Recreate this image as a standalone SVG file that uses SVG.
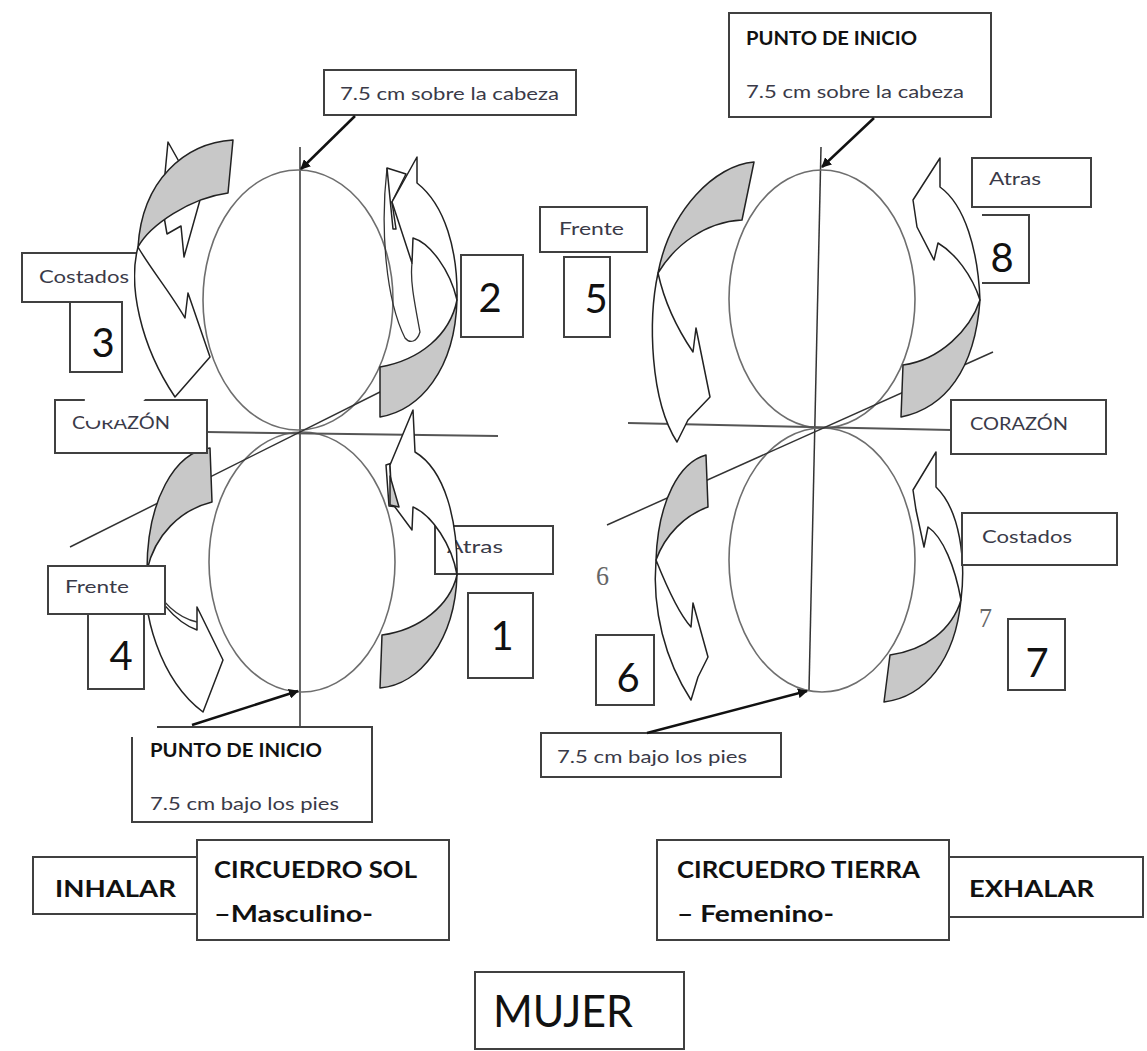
<svg xmlns="http://www.w3.org/2000/svg" width="1147" height="1051" viewBox="0 0 1147 1051">
<defs>
<style>
.bg{fill:#fff}
.box{fill:#fff;stroke:#404040;stroke-width:2}
.edge{fill:none;stroke:#404040;stroke-width:2}
.lbl{font-family:Lato,"Liberation Sans",Arial,sans-serif;font-size:18px;fill:#3a3a48}
.bold{font-family:Lato,"Liberation Sans",Arial,sans-serif;font-weight:bold;fill:#111}
.num{font-family:Lato,"Liberation Sans",Arial,sans-serif;font-size:40px;fill:#111;text-anchor:middle}
.thin{font-family:"Liberation Serif",serif;font-size:28px;fill:#666}
.ell{fill:none;stroke:#6e6e6e;stroke-width:1.6}
.axis{fill:none;stroke:#333;stroke-width:1.5}
.hline{fill:none;stroke:#555;stroke-width:2}
.wht{fill:#fff;stroke:#222;stroke-width:1.5;stroke-linejoin:round}
.gry{fill:#c8c8c8;stroke:#222;stroke-width:1.5;stroke-linejoin:round}
.back{fill:none;stroke:#333;stroke-width:1.3}
.ptr{fill:none;stroke:#111;stroke-width:2.5}
</style>
<marker id="tip" viewBox="0 0 10 10" refX="9" refY="5" markerWidth="4" markerHeight="4" orient="auto" markerUnits="strokeWidth">
<path d="M0,0 L10,5 L0,10 z" fill="#111"/>
</marker>
</defs>
<rect class="bg" x="0" y="0" width="1147" height="1051"/>

<!-- LEFT DIAGRAM base lines -->
<g id="left-figure">
<line class="axis" x1="300" y1="147" x2="300" y2="727"/>
<ellipse class="ell" cx="298" cy="300" rx="95" ry="130"/>
<ellipse class="ell" cx="302" cy="562" rx="93" ry="130"/>
<line class="hline" x1="207" y1="432" x2="498" y2="436"/>
<line class="axis" x1="70" y1="547" x2="400" y2="382"/>
</g>

<!-- RIGHT DIAGRAM base lines -->
<g id="right-figure">
<line class="axis" x1="821" y1="147" x2="809" y2="690"/>
<ellipse class="ell" cx="822" cy="299" rx="93" ry="129"/>
<ellipse class="ell" cx="822" cy="560" rx="93" ry="132"/>
<line class="hline" x1="628" y1="423" x2="951" y2="430"/>
<line class="axis" x1="607" y1="525" x2="993" y2="352"/>
</g>

<g id="left-atras">
<rect class="box" x="435" y="526" width="118" height="48"/>
<text class="lbl" x="447" y="553" textLength="56" lengthAdjust="spacingAndGlyphs">Atras</text>
</g>

<!-- curved flow arrows -->
<g id="arrow-3">
<path class="wht" d="M168,142 L177,158 L200,200 L184,257 L181,226 L167,234 L162,205 Z"/>
<path class="wht" d="M138,247 C128,285 140,345 175,397 L210,357 L188,293 L185,318 C170,292 150,268 138,247 Z"/>
<path class="gry" d="M233,140 C185,143 142,180 138,247 C150,225 190,198 228,193 Z"/>
</g>
<g id="arrow-4">
<path class="wht" d="M147,570 C140,610 160,680 203,712 L223,660 L197,607 L197,630 C175,622 152,595 147,570 Z"/>
<path class="back" d="M150,578 C160,602 178,618 197,622"/>
<path class="gry" d="M210,448 C175,452 147,500 147,570 C155,535 180,510 212,502 Z"/>
</g>
<g id="arrow-2">
<path class="back" d="M387,168 C380,230 386,300 405,338 C410,344 417,342 420,332 C414,300 410,280 412,263"/>
<path class="wht" d="M387,168 L406,174 L392,202 L396,229 L393,229 Z"/>
<path class="wht" d="M457,300 C458,250 445,205 417,183 L417,157 L392,202 L412,263 L413,238 C430,243 450,270 457,300 Z"/>
<path class="gry" d="M380,417 C420,410 455,370 457,300 C450,335 420,360 380,367 Z"/>
</g>
<g id="arrow-1">
<path class="wht" d="M386,465 L395,462 L390,465 L392,503 L398,507 L389,506 Z"/>
<path class="wht" d="M457,575 C458,520 445,470 415,452 L413,410 L390,465 L392,503 L412,530 L413,507 C432,515 452,545 457,575 Z"/>
<path class="gry" d="M390,476 L399,507 L390,505 Z"/>
<path class="gry" d="M380,688 C420,685 455,640 457,575 C450,605 420,630 382,635 Z"/>
</g>
<g id="arrow-5">
<path class="wht" d="M658,273 C648,320 650,400 677,442 L688,420 L710,397 L696,328 L693,352 C678,330 665,305 658,273 Z"/>
<path class="gry" d="M754,162 C715,165 670,210 658,273 C675,245 705,222 742,220 Z"/>
</g>
<g id="arrow-8">
<path class="wht" d="M980,300 C978,250 965,205 940,187 L940,158 L913,200 L917,227 L934,260 L938,243 C955,253 972,275 980,300 Z"/>
<path class="gry" d="M901,417 C945,408 975,370 980,300 C970,330 940,360 903,365 Z"/>
</g>
<g id="arrow-6">
<path class="wht" d="M656,560 C652,610 665,660 691,700 L698,677 L708,657 L693,603 L691,627 C680,615 668,590 656,560 Z"/>
<path class="gry" d="M706,455 C680,462 658,500 656,560 C665,535 685,515 708,507 Z"/>
</g>
<g id="arrow-7">
<path class="wht" d="M961,600 C966,560 960,510 936,487 L936,452 L913,490 L916,510 L924,547 L928,527 C943,537 955,567 961,600 Z"/>
<path class="gry" d="M884,702 C925,697 955,660 961,600 C952,630 925,650 890,655 Z"/>
</g>

<!-- LEFT labels -->
<g id="left-top-label">
<rect class="box" x="324" y="70" width="252" height="45"/>
<text class="lbl" x="340" y="100" textLength="219" lengthAdjust="spacingAndGlyphs">7.5 cm sobre la cabeza</text>
</g>
<g id="left-costados">
<path class="edge" d="M136,253 H22 V302 H70"/>
<path d="M23,254 H134 V301 H23 Z" fill="#fff"/>
<text class="lbl" x="39" y="283" textLength="90" lengthAdjust="spacingAndGlyphs">Costados</text>
</g>
<g id="left-n3">
<rect class="box" x="70" y="302" width="52" height="70"/>
<text class="num" x="103" y="357">3</text>
</g>
<g id="left-n2">
<rect class="box" x="461" y="255" width="62" height="82"/>
<text class="num" x="490" y="312">2</text>
</g>
<g id="left-corazon">
<rect class="box" x="55" y="400" width="152" height="53"/>
<text class="lbl" x="72" y="429" textLength="98" lengthAdjust="spacingAndGlyphs">CORAZÓN</text>
<path d="M85,396 L148,396 L128,417 L120,420 L84,421 Z" fill="#fff"/>
</g>
<g id="left-frente">
<rect class="box" x="48" y="566" width="117" height="48"/>
<text class="lbl" x="65" y="593" textLength="64" lengthAdjust="spacingAndGlyphs">Frente</text>
</g>
<g id="left-n4">
<rect class="box" x="88" y="614" width="56" height="75"/>
<text class="num" x="121" y="670">4</text>
</g>
<g id="left-n1">
<rect class="box" x="468" y="593" width="65" height="85"/>
<text class="num" x="502" y="650">1</text>
</g>
<g id="left-start">
<path d="M132,737 V822 H372 V727 H157" fill="#fff" stroke="#404040" stroke-width="2"/>
<text class="bold" font-size="18" x="150" y="757" textLength="172" lengthAdjust="spacingAndGlyphs" fill="#2a1f33">PUNTO DE INICIO</text>
<text class="lbl" x="150" y="810" textLength="189" lengthAdjust="spacingAndGlyphs">7.5 cm bajo los pies</text>
</g>

<!-- RIGHT labels -->
<g id="right-start">
<rect class="box" x="729" y="13" width="262" height="104"/>
<text class="bold" font-size="18" x="746" y="45" textLength="171" lengthAdjust="spacingAndGlyphs" fill="#2a1f33">PUNTO DE INICIO</text>
<text class="lbl" x="746" y="98" textLength="218" lengthAdjust="spacingAndGlyphs">7.5 cm sobre la cabeza</text>
</g>
<g id="right-frente">
<rect class="box" x="540" y="207" width="107" height="45"/>
<text class="lbl" x="559" y="235" textLength="65" lengthAdjust="spacingAndGlyphs">Frente</text>
</g>
<g id="right-n5">
<rect class="box" x="564" y="257" width="46" height="80"/>
<text class="num" x="596" y="313">5</text>
</g>
<g id="right-atras">
<rect class="box" x="972" y="158" width="119" height="49"/>
<text class="lbl" x="989" y="185" textLength="52" lengthAdjust="spacingAndGlyphs">Atras</text>
</g>
<g id="right-n8">
<path class="edge" d="M982,215 H1029 V283 H982"/>
<text class="num" x="1002" y="272">8</text>
</g>
<g id="right-corazon">
<rect class="box" x="951" y="400" width="155" height="54"/>
<text class="lbl" x="970" y="430" textLength="98" lengthAdjust="spacingAndGlyphs">CORAZÓN</text>
</g>
<g id="right-costados">
<rect class="box" x="962" y="513" width="155" height="52"/>
<text class="lbl" x="982" y="543" textLength="90" lengthAdjust="spacingAndGlyphs">Costados</text>
</g>
<g id="right-small6">
<text class="thin" x="596" y="585" textLength="13" lengthAdjust="spacingAndGlyphs">6</text>
</g>
<g id="right-small7">
<text class="thin" x="979" y="627" textLength="13" lengthAdjust="spacingAndGlyphs">7</text>
</g>
<g id="right-n6">
<rect class="box" x="596" y="635" width="58" height="70"/>
<text class="num" x="628" y="692">6</text>
</g>
<g id="right-n7">
<rect class="box" x="1008" y="619" width="57" height="71"/>
<text class="num" x="1037" y="677">7</text>
</g>
<g id="right-feet">
<rect class="box" x="541" y="733" width="240" height="44"/>
<text class="lbl" x="557" y="763" textLength="190" lengthAdjust="spacingAndGlyphs">7.5 cm bajo los pies</text>
</g>

<!-- pointer connectors -->
<g id="connectors">
<line class="ptr" x1="355" y1="116" x2="301" y2="169" marker-end="url(#tip)"/>
<line class="ptr" x1="192" y1="725" x2="298" y2="691" marker-end="url(#tip)"/>
<line class="ptr" x1="874" y1="118" x2="822" y2="167" marker-end="url(#tip)"/>
<line class="ptr" x1="647" y1="733" x2="807" y2="691" marker-end="url(#tip)"/>
</g>

<!-- bottom captions -->
<g id="inhalar">
<rect class="box" x="33" y="857" width="164" height="57"/>
<text class="bold" font-size="23" x="55" y="897" textLength="121" lengthAdjust="spacingAndGlyphs">INHALAR</text>
</g>
<g id="sol">
<rect class="box" x="197" y="840" width="252" height="100"/>
<text class="bold" font-size="23" x="214" y="878" textLength="203" lengthAdjust="spacingAndGlyphs">CIRCUEDRO SOL</text>
<text class="bold" font-size="23" x="214" y="922" textLength="159" lengthAdjust="spacingAndGlyphs">–Masculino-</text>
</g>
<g id="tierra">
<rect class="box" x="657" y="840" width="292" height="100"/>
<text class="bold" font-size="23" x="677" y="878" textLength="243" lengthAdjust="spacingAndGlyphs">CIRCUEDRO TIERRA</text>
<text class="bold" font-size="23" x="677" y="922" textLength="157" lengthAdjust="spacingAndGlyphs">– Femenino-</text>
</g>
<g id="exhalar">
<rect class="box" x="949" y="857" width="194" height="60"/>
<text class="bold" font-size="23" x="969" y="897" textLength="125" lengthAdjust="spacingAndGlyphs">EXHALAR</text>
</g>
<g id="mujer">
<rect class="box" x="475" y="972" width="209" height="77"/>
<text font-family="Lato,Liberation Sans,Arial,sans-serif" font-size="44" fill="#111" x="493" y="1027" textLength="140" lengthAdjust="spacingAndGlyphs">MUJER</text>
</g>
</svg>
